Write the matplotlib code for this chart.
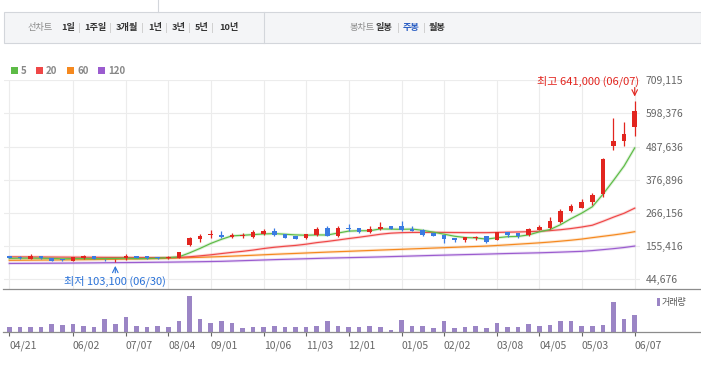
import matplotlib
matplotlib.use("Agg")
import matplotlib.pyplot as plt
from matplotlib.patches import Rectangle
import numpy as np

plt.rcParams['font.family'] = ['Noto Sans CJK KR', 'DejaVu Sans']

# weekly candles, 2019-04-21 .. 2020-06-07 (won)
opens = [120800, 119500, 112800, 121900, 116200, 110100, 106100, 114100, 121900, 109300,
         108000, 114100, 121900, 120800, 118500, 116800, 115200, 158800, 178900, 191300,
         192300, 186600, 188000, 186600, 195700, 205800, 195700, 190000, 183300, 191300,
         214800, 190000, 214800, 214800, 202400, 212500, 222500, 222500, 212500, 209100,
         198000, 192300, 181300, 174500, 183300, 188900, 176600, 201400, 198000, 192300,
         210100, 216800, 237000, 272900, 284000, 304100, 328900, 488700, 505400, 553700]
highs = [123000, 123500, 128600, 122500, 117000, 113000, 118500, 124000, 122500, 111800,
         113000, 127500, 123500, 121500, 119000, 120800, 136000, 185600, 194500, 209100,
         205800, 198000, 198000, 209100, 212500, 215800, 196500, 190500, 196500, 220200,
         222500, 223500, 229200, 215500, 222500, 234900, 223000, 239300, 222500, 211500,
         200000, 193000, 182000, 185000, 190000, 189500, 202000, 202000, 199000, 215800,
         225900, 253700, 279600, 296400, 313100, 334300, 449700, 581600, 569200, 641000]
lows = [114000, 112000, 110800, 111800, 105500, 106100, 104500, 113500, 112000, 106100,
        103100, 108400, 114500, 113500, 113000, 112800, 114500, 156400, 169900, 183300,
        183300, 183300, 183300, 183300, 192300, 189000, 182500, 179000, 178900, 190000,
        189000, 186600, 206800, 200000, 199000, 209100, 211000, 206800, 206000, 189000,
        189000, 166500, 170000, 170000, 175500, 166500, 176000, 184600, 183300, 190000,
        208000, 212500, 231600, 269500, 281900, 294000, 320900, 477600, 491000, 524500]
closes = [115200, 114100, 121900, 114100, 106100, 108400, 117500, 121900, 112800, 108000,
          109800, 121900, 115200, 114100, 114100, 118000, 135300, 181300, 190000, 195700,
          186600, 193300, 191300, 201400, 206800, 192300, 183300, 179900, 195700, 212500,
          190000, 215800, 212500, 202400, 212500, 220200, 212500, 209100, 206800, 191300,
          190000, 178900, 174500, 184600, 185300, 169900, 201400, 192300, 189000, 211500,
          220200, 239300, 273900, 290700, 303100, 326600, 447400, 505400, 531300, 605100]

# moving averages (thousand won)
ma5 = [114.5, 114.8, 115.0, 114.6, 114.3, 112.9, 113.6, 113.6, 113.3, 113.7,
       114.0, 114.9, 113.5, 113.8, 115.0, 116.7, 119.3, 132.6, 147.7, 164.1,
       177.8, 189.4, 191.4, 193.7, 195.9, 197.0, 195.0, 192.7, 191.6, 192.7,
       192.3, 198.8, 205.3, 206.6, 206.6, 212.7, 212.0, 211.3, 212.2, 208.0,
       201.9, 195.2, 188.3, 183.9, 182.7, 178.6, 183.1, 186.7, 187.6, 192.8,
       202.9, 210.5, 226.8, 247.1, 265.4, 286.7, 328.3, 374.6, 422.8, 483.2]
ma20 = [119.5, 119.3, 119.1, 118.9, 118.7, 118.5, 118.3, 118.1, 117.9, 117.7,
        117.5, 117.4, 117.2, 117.1, 117.0, 116.9, 117.5, 119.7, 122.8, 126.2,
        130.3, 134.3, 137.8, 142.1, 147.2, 151.4, 154.7, 157.6, 161.7, 166.9,
        170.9, 175.6, 180.5, 184.9, 189.8, 194.9, 198.5, 200.2, 201.0, 201.0,
        201.2, 201.0, 200.6, 200.4, 200.2, 200.2, 201.0, 201.8, 202.5, 203.5,
        205.0, 207.0, 210.0, 214.0, 219.0, 225.0, 238.0, 252.0, 265.0, 282.0]
ma60 = [107.8, 108.0, 108.3, 108.6, 108.8, 109.1, 109.5, 109.9, 110.3, 110.7,
        111.1, 111.7, 112.3, 112.9, 113.7, 114.5, 115.6, 116.7, 117.8, 119.0,
        120.2, 121.7, 123.2, 124.7, 126.3, 127.9, 129.4, 130.8, 132.3, 133.8,
        135.3, 136.6, 137.9, 139.3, 140.6, 142.0, 143.3, 144.6, 146.0, 147.3,
        148.7, 150.0, 151.3, 152.7, 154.0, 155.4, 157.4, 159.5, 161.7, 163.9,
        166.2, 168.8, 171.8, 175.0, 178.8, 183.5, 188.0, 192.5, 197.5, 203.4]
ma120 = [97.4, 97.6, 97.8, 98.0, 98.2, 98.4, 98.7, 99.0, 99.3, 99.7,
         100.0, 100.3, 100.6, 101.0, 101.4, 101.7, 102.2, 102.7, 103.2, 103.8,
         104.4, 105.5, 106.6, 107.7, 108.9, 110.1, 111.1, 112.1, 113.1, 114.1,
         115.1, 115.9, 116.7, 117.5, 118.3, 119.2, 120.2, 121.2, 122.2, 123.2,
         124.2, 125.1, 126.0, 126.9, 127.7, 128.6, 129.6, 130.5, 131.3, 132.1,
         132.9, 134.0, 135.2, 136.5, 137.8, 140.3, 143.5, 146.8, 150.6, 155.4]

volume = [53, 53, 53, 53, 83, 73, 83, 63, 53, 133, 83, 153, 63, 53, 63, 53, 113, 363, 133, 93,
          113, 93, 43, 53, 53, 63, 53, 53, 53, 63, 113, 63, 53, 53, 63, 53, 23, 123, 63, 63,
          43, 113, 43, 53, 63, 43, 93, 53, 53, 83, 63, 73, 113, 113, 63, 63, 73, 303, 133, 173]

tick_pos = [0, 6, 11, 15, 19, 24, 28, 32, 37, 41, 46, 50, 54, 59]
tick_labels = ['04/21', '06/02', '07/07', '08/04', '09/01', '10/06', '11/03', '12/01',
               '01/05', '02/02', '03/08', '04/05', '05/03', '06/07']
price_ticks = [44676, 155416, 266156, 376896, 487636, 598376, 709115]

ma_names = ['5', '20', '60', '120']
ma_colors = ['#5dbb46', '#ef4747', '#f5891f', '#9b5ccf']

RED = '#e2251f'
BLUE = '#3a7be2'
VOL = '#9b85c5'

W, H = 701, 369
fig = plt.figure(figsize=(W / 100, H / 100), dpi=100)

def box(l, t, r, b):
    return [l / W, 1 - b / H, (r - l) / W, (b - t) / H]

ax = fig.add_axes(box(4, 80.3, 640, 289))
axv = fig.add_axes(box(4, 290, 640, 332.3))
ov = fig.add_axes([0, 0, 1, 1], zorder=10)
ov.set_xlim(0, W)
ov.set_ylim(H, 0)
ov.axis('off')
ov.patch.set_visible(False)

o = np.array(opens); h = np.array(highs); l = np.array(lows); c = np.array(closes)
idx = np.arange(len(c))
cols = np.where(c >= o, RED, BLUE)

# moving averages
for vals, col in zip([ma120, ma60, ma20, ma5], ma_colors[::-1]):
    v = np.array(vals) * 1000
    ax.plot(idx, v, color=col, lw=2.2, alpha=0.2, zorder=2, solid_capstyle='round')
    ax.plot(idx, v, color=col, lw=0.85, zorder=2)

# candles
ax.vlines(idx, l, h, colors=cols, lw=0.9, zorder=3)
diff = np.abs(c - o)
minh = 2600
bot = np.where(diff < minh, (c + o) / 2 - minh / 2, np.minimum(c, o))
ax.bar(idx, np.maximum(diff, minh), bottom=bot, width=0.45, color=cols, lw=0, zorder=3)

ax.set_xlim(-0.5, 59.5)
ax.set_ylim(12000, 709115)
ax.set_yticks(price_ticks)
ax.set_yticklabels([f'{v:,}' for v in price_ticks])
ax.yaxis.tick_right()
ax.set_xticks(tick_pos)
ax.tick_params(axis='both', length=0, labelbottom=False, labelsize=7.5, labelcolor='#666666', pad=4)
ax.grid(True, color='#ececec', lw=0.8)
ax.set_axisbelow(True)
for s in ax.spines.values():
    s.set_visible(False)

# high / low markers
hi = int(np.argmax(h)); lo = int(np.argmin(l))
ax.annotate('', xy=(hi, h[hi]), xytext=(0, 9.5), textcoords='offset points',
            arrowprops=dict(arrowstyle='->', color=RED, lw=0.8, shrinkA=0, shrinkB=3),
            annotation_clip=False)
ax.annotate(f'최고 {h[hi]:,} ({tick_labels[-1]})', xy=(hi, h[hi]), xytext=(3, 14),
            textcoords='offset points', ha='right', va='center', fontsize=8,
            color=RED, annotation_clip=False)
ax.annotate('', xy=(lo, l[lo]), xytext=(0, -8), textcoords='offset points',
            arrowprops=dict(arrowstyle='->', color='#2a72d8', lw=0.8, shrinkA=0, shrinkB=3),
            annotation_clip=False)
ax.annotate(f'최저 {l[lo]:,} (06/30)', xy=(lo, l[lo]), xytext=(0, -14.3),
            textcoords='offset points', ha='center', va='center', fontsize=8,
            color='#2a72d8', annotation_clip=False)

# volume
axv.bar(idx, volume, width=0.42, color=VOL, lw=0)
axv.set_xlim(-0.5, 59.5)
axv.set_ylim(0, 423)
axv.set_yticks([])
axv.set_xticks(tick_pos)
axv.set_xticklabels(tick_labels, ha='left')
axv.tick_params(axis='x', length=3.2, width=0.8, color='#666666', labelsize=7.5,
                labelcolor='#666666', pad=2.5)
for s in axv.spines.values():
    s.set_visible(False)
axv.patch.set_visible(False)

# frame lines
ov.plot([3, 701], [289, 289], color='#8c8c8c', lw=0.9)
ov.plot([3, 701], [332.3, 332.3], color='#8c8c8c', lw=0.9)

# toolbar
fs = 6.6
ov.add_patch(Rectangle((3.5, 12.3), 697, 30.4, facecolor='#f4f5f7', edgecolor='#d3d6db', lw=0.8))
ov.plot([264, 264], [12.3, 42.7], color='#d3d6db', lw=0.8)
ov.plot([158, 158], [0, 12.3], color='#d3d6db', lw=0.8)
ty = 27.5
ov.text(28, ty, '선차트', fontsize=fs, color='#8a8a8a', va='center')
left_items = [('1일', 61), ('1주일', 84), ('3개월', 116), ('1년', 148), ('3년', 172),
              ('5년', 195), ('10년', 219)]
for t, x in left_items:
    ov.text(x, ty, t, fontsize=fs, color='#333333', fontweight='bold', va='center')
for x in [79, 110, 142, 166, 189, 212]:
    ov.plot([x, x], [23, 32], color='#d0d0d0', lw=0.7)
ov.text(349, ty, '봉차트', fontsize=fs, color='#8a8a8a', va='center')
ov.text(376, ty, '일봉', fontsize=fs, color='#333333', fontweight='bold', va='center')
ov.text(403, ty, '주봉', fontsize=fs, color='#2b5fc4', fontweight='bold', va='center')
ov.text(429, ty, '월봉', fontsize=fs, color='#333333', fontweight='bold', va='center')
for x in [398, 424]:
    ov.plot([x, x], [23, 32], color='#d0d0d0', lw=0.7)

# MA legend
for name, col, x in zip(ma_names, ma_colors, [11, 36, 67, 98]):
    ov.add_patch(Rectangle((x, 67), 6.5, 6.5, facecolor=col, lw=0))
    ov.text(x + 10, 70.5, name, fontsize=7, color='#888888', fontweight='bold', va='center')

# volume legend
ov.add_patch(Rectangle((657, 298), 3, 8, facecolor=VOL, lw=0))
ov.text(662, 302, '거래량', fontsize=6.5, color='#555555', va='center')

fig.savefig('out.png', dpi=100)
